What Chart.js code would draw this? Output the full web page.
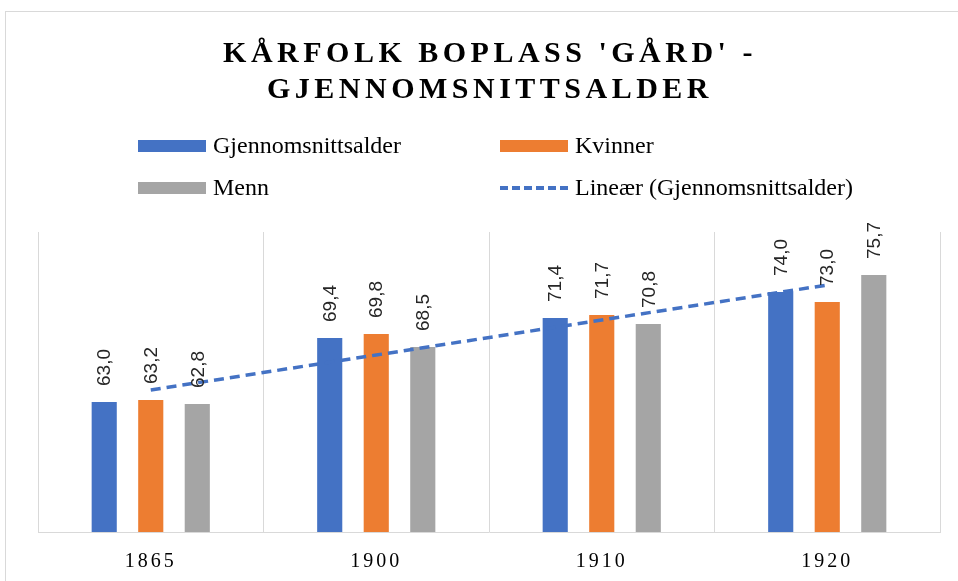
<!DOCTYPE html>
<html>
<head>
<meta charset="utf-8">
<script src="https://cdn.jsdelivr.net/npm/chart.js@4.4.1/dist/chart.umd.min.js"></script>
<style>
  html, body { margin: 0; padding: 0; background: #fff; }
  #wrap { position: relative; width: 958px; height: 581px; overflow: hidden; }
  #frame { position: absolute; left: 5px; top: 11px; width: 1100px; height: 1100px; border: 1px solid #d9d9d9; }
  #title { position: absolute; left: 0; width: 980px; top: 34px; text-align: center;
           font: bold 30px "Liberation Serif", serif; letter-spacing: 4.5px; line-height: 36px; color: #000; }
  .leg { position: absolute; font: 24px "Liberation Serif", serif; color: #000; line-height: 26px; white-space: nowrap; }
  .sw { position: absolute; width: 68px; height: 12px; }
  .dash { position: absolute; width: 68px; height: 0; border-top: 4px dashed #4472C4; }
  canvas { position: absolute; left: 0; top: 0; }
</style>
</head>
<body>
<div id="wrap">
  <div id="frame"></div>
  <canvas id="barChart" width="958" height="597"></canvas>
  <div id="title">KÅRFOLK BOPLASS 'GÅRD' -<br>GJENNOMSNITTSALDER</div>
  <div id="legend"></div>
</div>
<script>
const years = ['1865', '1900', '1910', '1920'];
const snitt = [63.0, 69.4, 71.4, 74.0];
const kvinner = [63.2, 69.8, 71.7, 73.0];
const menn = [62.8, 68.5, 70.8, 75.7];
// trendlinje lest av bildet
const trend = [64.2, 67.7, 71.2, 74.7];

const blue = '#4472C4';
const orange = '#ED7D31';
const grey = '#A5A5A5';

// etiketter over stolpene, rotert
const valueLabels = {
   id: 'valueLabels',
   beforeDraw(chart) {
      chart.ctx.letterSpacing = '3px';
   },
   afterDatasetsDraw(chart) {
      const ctx = chart.ctx;
      ctx.save();
      ctx.letterSpacing = '0px';
      ctx.font = '19px "Liberation Sans", Arial, sans-serif';
      ctx.fillStyle = '#262626';
      ctx.textAlign = 'left';
      ctx.textBaseline = 'middle';
      chart.data.datasets.forEach((ds, i) => {
         if (ds.type === 'line') return;
         chart.getDatasetMeta(i).data.forEach((bar, j) => {
            ctx.save();
            ctx.translate(bar.x, bar.y - 16);
            ctx.rotate(-Math.PI / 2);
            ctx.fillText(ds.data[j].toFixed(1).replace('.', ','), 0, 1);
            ctx.restore();
         });
      });
      ctx.restore();
   }
};

const ctx = document.getElementById('barChart').getContext('2d');
const barChart = new Chart(ctx, {
   type: 'bar',
   data: {
      labels: years,
      datasets: [{
         label: 'Gjennomsnittsalder',
         data: snitt,
         backgroundColor: blue,
         order: 1
      }, {
         label: 'Kvinner',
         data: kvinner,
         backgroundColor: orange,
         order: 1
      }, {
         label: 'Menn',
         data: menn,
         backgroundColor: grey,
         order: 1
      }, {
         type: 'line',
         label: 'Lineær (Gjennomsnittsalder)',
         data: trend,
         borderColor: blue,
         borderWidth: 3.5,
         borderDash: [10, 6],
         pointRadius: 0,
         fill: false,
         order: 0
      }]
   },
   options: {
      responsive: false,
      animation: false,
      categoryPercentage: 0.619,
      barPercentage: 0.54,
      layout: { padding: { left: 38, right: 18, top: 232, bottom: 5 } },
      plugins: {
         legend: { display: false },
         title: { display: false },
         tooltip: { enabled: false }
      },
      scales: {
         x: {
            grid: { color: '#d9d9d9', drawTicks: false, offset: true },
            border: { color: '#d9d9d9' },
            ticks: {
               padding: 18,
               color: '#000',
               font: { family: '"Liberation Serif", serif', size: 20 }
            }
         },
         y: {
            display: false,
            min: 50,
            max: 80
         }
      }
   },
   plugins: [valueLabels]
});

// forklaring i to kolonner
const legendItems = [
   { text: 'Gjennomsnittsalder', color: blue, x: 138, y: 146 },
   { text: 'Kvinner', color: orange, x: 500, y: 146 },
   { text: 'Menn', color: grey, x: 138, y: 188 },
   { text: 'Lineær (Gjennomsnittsalder)', color: null, x: 500, y: 188 }
];
const legendEl = document.getElementById('legend');
legendItems.forEach(item => {
   const mark = document.createElement('div');
   if (item.color) {
      mark.className = 'sw';
      mark.style.background = item.color;
      mark.style.left = item.x + 'px';
      mark.style.top = (item.y - 6) + 'px';
   } else {
      mark.className = 'dash';
      mark.style.left = item.x + 'px';
      mark.style.top = (item.y - 2) + 'px';
   }
   legendEl.appendChild(mark);
   const txt = document.createElement('div');
   txt.className = 'leg';
   txt.textContent = item.text;
   txt.style.left = (item.x + 75) + 'px';
   txt.style.top = (item.y - 14) + 'px';
   legendEl.appendChild(txt);
});
</script>
</body>
</html>
